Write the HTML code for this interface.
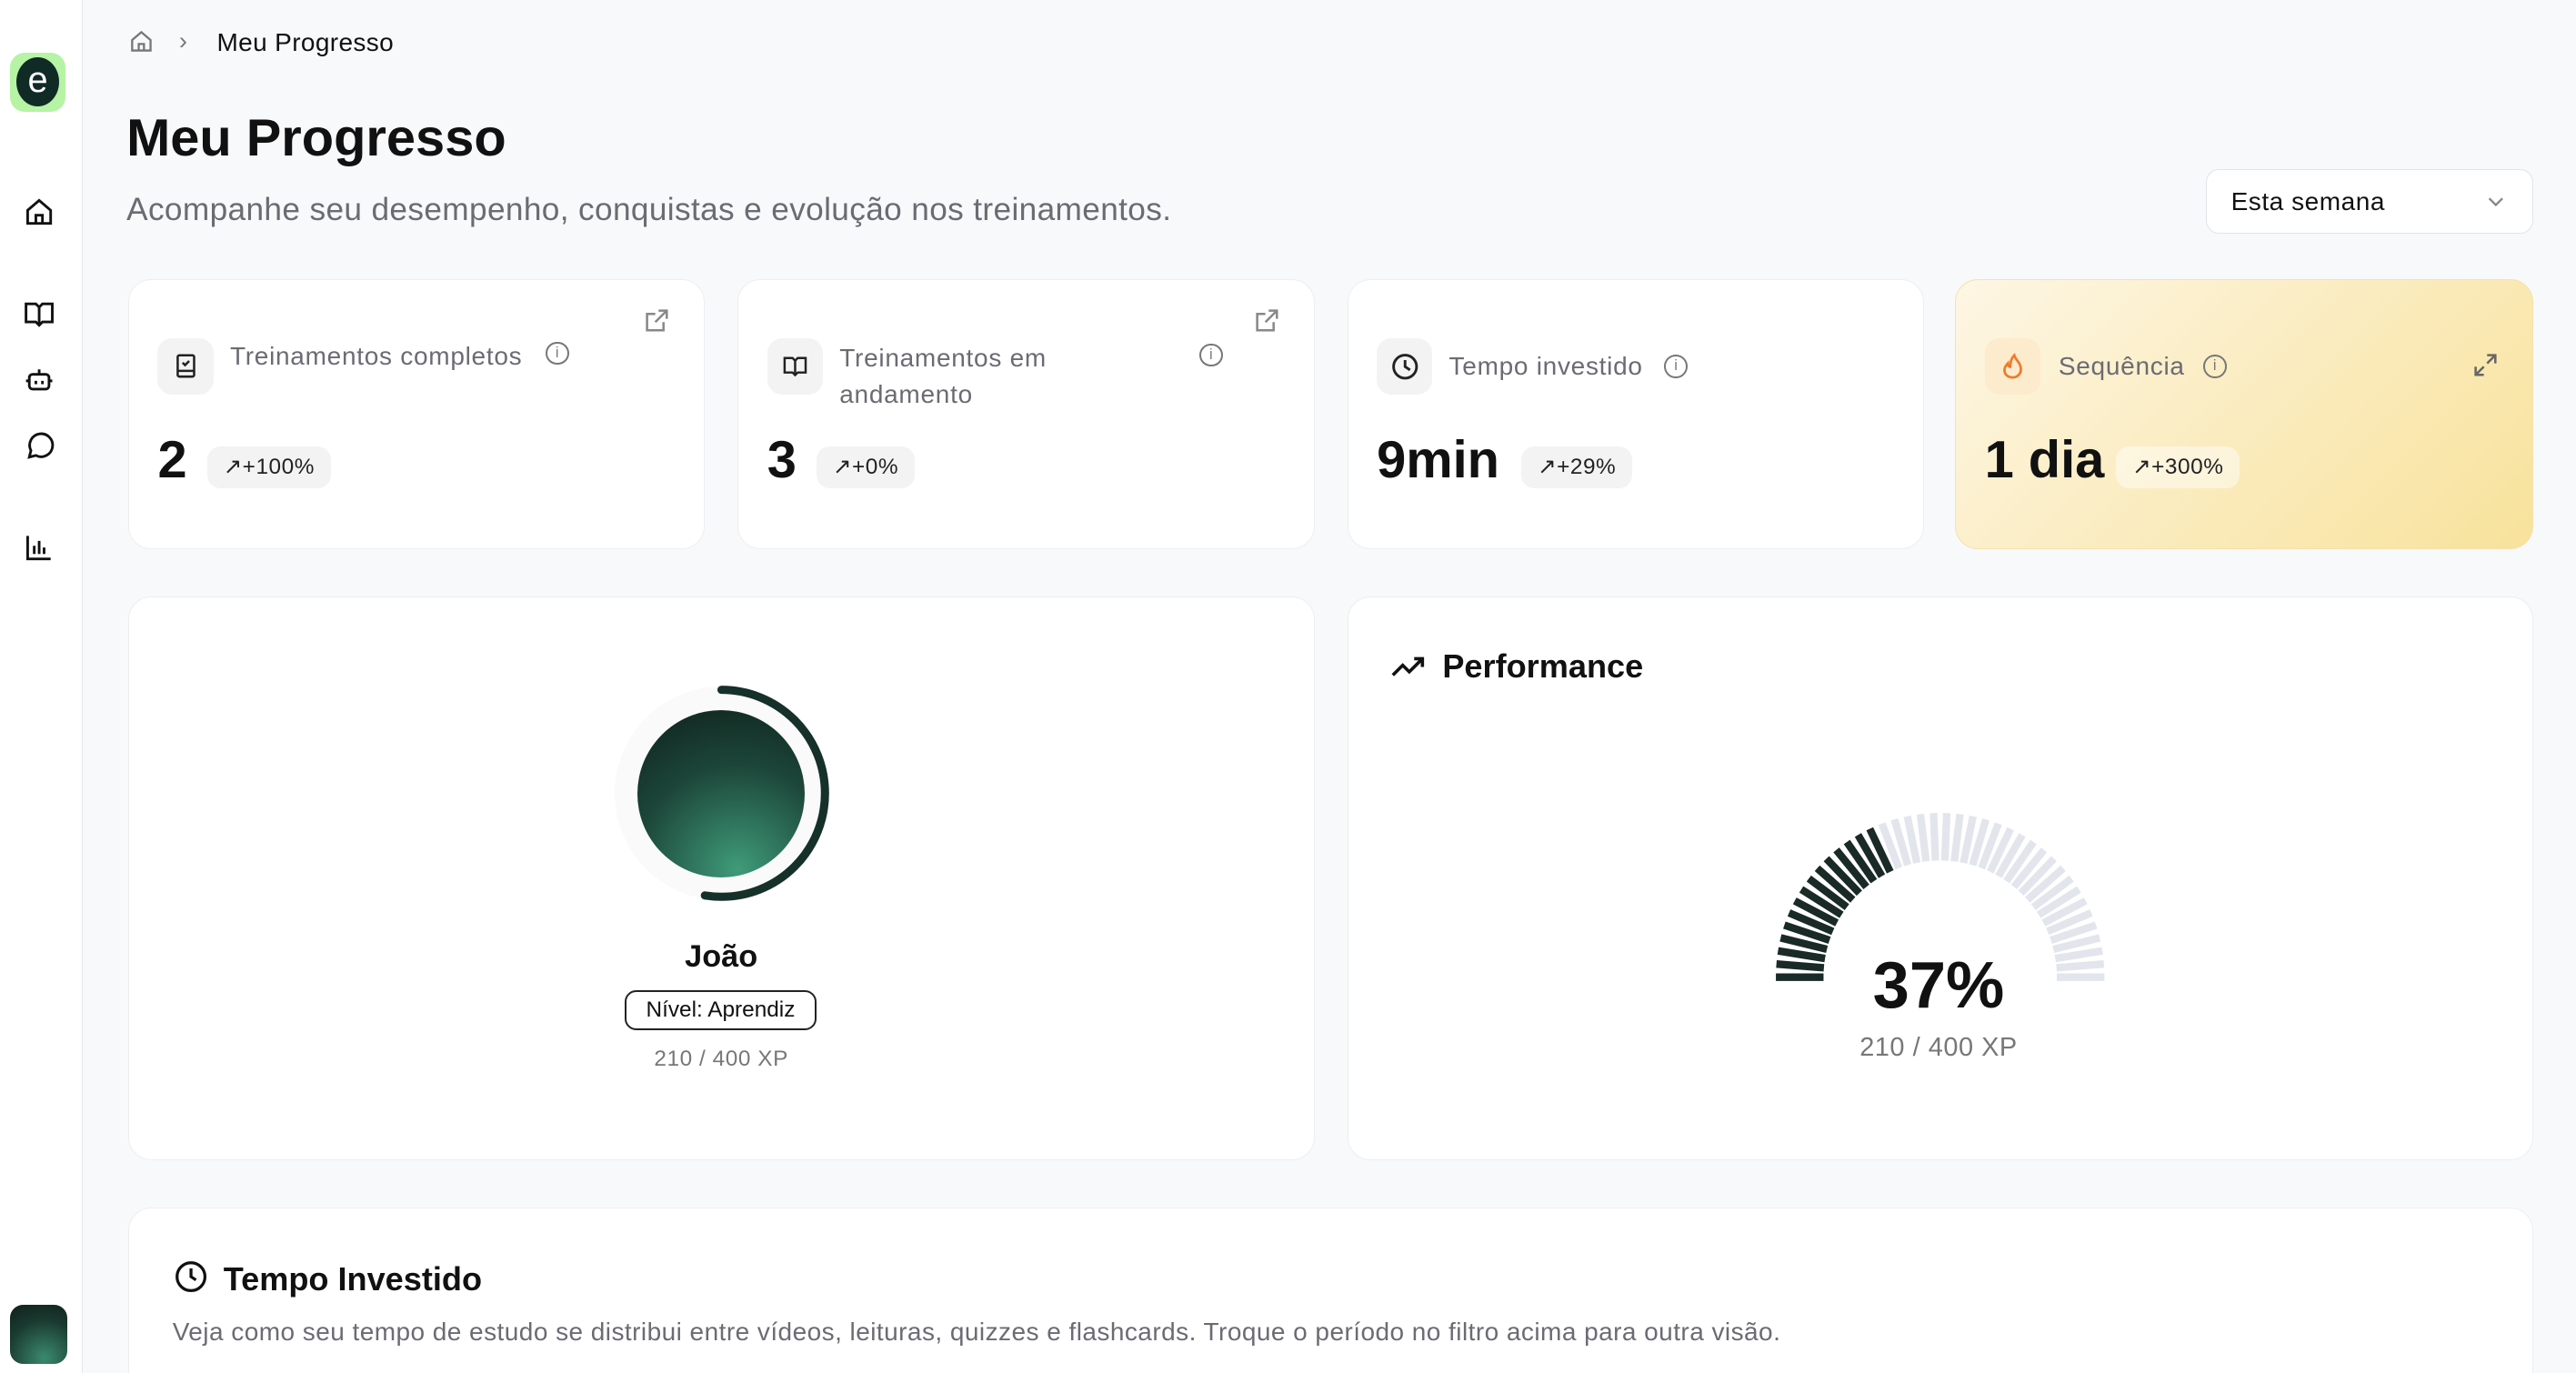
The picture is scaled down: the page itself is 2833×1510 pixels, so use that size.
<!DOCTYPE html>
<html><head><meta charset="utf-8">
<style>
html,body{margin:0;padding:0;background:#f8f9fa;}
body{width:2833px;height:1510px;overflow:hidden;font-family:"Liberation Sans",sans-serif;}
#z{zoom:1.80676;width:1568px;height:836px;position:relative;color:#111;overflow:hidden;}
.a{position:absolute;}
.card{position:absolute;background:#fff;border:1px solid #eceef1;border-radius:14px;}
.lbl{font-size:15.5px;color:#6b6b73;letter-spacing:0.4px;}
.val{font-size:32px;font-weight:bold;}
.bdg{position:absolute;background:#f3f3f4;border-radius:8px;font-size:13.5px;color:#222;height:25px;line-height:25px;padding:0 10px;letter-spacing:0.3px;}
.ib{position:absolute;width:34px;height:34px;background:#f3f3f4;border-radius:9px;}
svg{position:absolute;overflow:visible;}
</style></head><body><div id="z">
<div class="a" style="left:0;top:0;width:50px;height:836px;background:#fff;border-right:1px solid #e6e7ea"></div>
<div class="a" style="left:6px;top:32px;width:34px;height:36px;background:#b6f3a5;border-radius:9px"></div>
<div class="a" style="left:10px;top:35px;width:26px;height:30px;background:#102a26;border-radius:50%;color:#fff;font-size:22px;text-align:center;line-height:28px">e</div>
<svg width="20" height="20" style="left:14px;top:119px" viewBox="0 0 20 20" fill="none" stroke="#111" stroke-width="1.6"><path d="M3 9l7-6 7 6v8H3z M8 17v-5h4v5"/></svg>
<svg width="20" height="20" style="left:14px;top:181px" viewBox="0 0 20 20" fill="none" stroke="#111" stroke-width="1.6"><path d="M2 4h6l2 2 2-2h6v11h-6l-2 2-2-2H2z M10 6v11"/></svg>
<svg width="20" height="20" style="left:14px;top:221px" viewBox="0 0 20 20" fill="none" stroke="#111" stroke-width="1.6"><rect x="4" y="7" width="12" height="9" rx="2"/><path d="M10 7V4M8 11v2M12 11v2M2 11h2M16 11h2"/></svg>
<svg width="20" height="20" style="left:14px;top:261px" viewBox="0 0 20 20" fill="none" stroke="#111" stroke-width="1.6"><path d="M4 17l1-4a7 7 0 1 1 3 3z"/></svg>
<svg width="20" height="20" style="left:14px;top:323px" viewBox="0 0 20 20" fill="none" stroke="#111" stroke-width="1.6"><path d="M3 3v14h14M7 14V9M10 14V6M13 14v-4"/></svg>
<div class="a" style="left:6px;top:794px;width:35px;height:36px;border-radius:8px;background:radial-gradient(circle at 60% 90%,#3a8a6e,#1a3a30 60%,#101f1b)"></div>

<svg width="16" height="16" style="left:78px;top:17px" viewBox="0 0 20 20" fill="none" stroke="#777" stroke-width="1.6"><path d="M3 9l7-6 7 6v8H3z M8 17v-5h4v5"/></svg>
<div class="a" style="left:109px;top:16px;color:#777;font-size:15px">›</div>
<div class="a" style="left:132px;top:17px;font-size:15.5px;letter-spacing:0.2px">Meu Progresso</div>
<div class="a" style="left:77px;top:66px;font-size:32px;font-weight:bold">Meu Progresso</div>
<div class="a" style="left:77px;top:117px;font-size:19.5px;color:#6b6b73;letter-spacing:0.2px">Acompanhe seu desempenho, conquistas e evolução nos treinamentos.</div>
<div class="a" style="left:1343px;top:103px;width:199px;height:39px;background:#fff;border:1px solid #e2e4e8;border-radius:8px;box-sizing:border-box"></div>
<div class="a" style="left:1358px;top:114px;font-size:15.5px;letter-spacing:0.3px">Esta semana</div>
<svg width="12" height="12" style="left:1513px;top:117px" viewBox="0 0 12 12" fill="none" stroke="#888" stroke-width="1.3"><path d="M2 4l4 4 4-4"/></svg>

<div class="card" style="left:78px;top:170px;width:350px;height:163px"></div>
<div class="card" style="left:449px;top:170px;width:350px;height:163px"></div>
<div class="card" style="left:820px;top:170px;width:350px;height:163px"></div>
<div class="card" style="left:1190px;top:170px;width:351px;height:163px;background:linear-gradient(135deg,#fdf6e4,#f8e29b);border-color:#f3e2b0"></div>

<div class="ib" style="left:96px;top:206px"></div>
<svg width="16" height="16" style="left:105px;top:215px" viewBox="0 0 16 16" fill="none" stroke="#222" stroke-width="1.4"><rect x="3" y="1.5" width="10" height="13" rx="1"/><path d="M3 11h10M6 6l1.5 1.5L10 5"/></svg>
<div class="a lbl" style="left:140px;top:208px">Treinamentos completos</div>
<div class="a" style="left:332px;top:208px;width:12px;height:12px;border:1.3px solid #777;border-radius:50%;font-size:9px;color:#777;text-align:center;line-height:12px">i</div>
<svg width="16" height="16" style="left:392px;top:187px" viewBox="0 0 16 16" fill="none" stroke="#888" stroke-width="1.4"><path d="M12 9v5H2V4h5M9 2h5v5M14 2L7 9"/></svg>
<div class="a val" style="left:96px;top:262px">2</div>
<div class="bdg" style="left:126px;top:272px">↗+100%</div>

<div class="ib" style="left:467px;top:206px"></div>
<svg width="16" height="16" style="left:476px;top:215px" viewBox="0 0 20 20" fill="none" stroke="#222" stroke-width="1.7"><path d="M2 4h6l2 2 2-2h6v11h-6l-2 2-2-2H2z M10 6v11"/></svg>
<div class="a lbl" style="left:511px;top:207px;line-height:22px">Treinamentos em<br>andamento</div>
<div class="a" style="left:730px;top:209px;width:12px;height:12px;border:1.3px solid #777;border-radius:50%;font-size:9px;color:#777;text-align:center;line-height:12px">i</div>
<svg width="16" height="16" style="left:763px;top:187px" viewBox="0 0 16 16" fill="none" stroke="#888" stroke-width="1.4"><path d="M12 9v5H2V4h5M9 2h5v5M14 2L7 9"/></svg>
<div class="a val" style="left:467px;top:262px">3</div>
<div class="bdg" style="left:497px;top:272px">↗+0%</div>

<div class="ib" style="left:838px;top:206px"></div>
<svg width="18" height="18" style="left:846px;top:214px" viewBox="0 0 18 18" fill="none" stroke="#222" stroke-width="1.6"><circle cx="9" cy="9" r="7"/><path d="M9 5v4l3 2"/></svg>
<div class="a lbl" style="left:882px;top:214px">Tempo investido</div>
<div class="a" style="left:1013px;top:216px;width:12px;height:12px;border:1.3px solid #777;border-radius:50%;font-size:9px;color:#777;text-align:center;line-height:12px">i</div>
<div class="a val" style="left:838px;top:262px">9min</div>
<div class="bdg" style="left:926px;top:272px">↗+29%</div>

<div class="ib" style="left:1208px;top:206px;background:#fcebcd"></div>
<svg width="16" height="16" style="left:1217px;top:215px" viewBox="0 0 16 16" fill="none" stroke="#f07a2a" stroke-width="1.5"><path d="M8 15c-3 0-5-2-5-4.5 0-2 1.3-3.2 2-4 0 1.2.7 2 1.5 2C6.5 6 7 3.5 9 1.5c.5 2.5 4 4.5 4 8.5 0 3-2.3 5-5 5z"/></svg>
<div class="a lbl" style="left:1253px;top:214px">Sequência</div>
<div class="a" style="left:1341px;top:216px;width:12px;height:12px;border:1.3px solid #777;border-radius:50%;font-size:9px;color:#777;text-align:center;line-height:12px">i</div>
<svg width="16" height="16" style="left:1505px;top:214px" viewBox="0 0 16 16" fill="none" stroke="#666" stroke-width="1.4"><path d="M9 2h5v5M14 2L9 7M7 14H2V9M2 14l5-5"/></svg>
<div class="a val" style="left:1208px;top:262px">1 dia</div>
<div class="bdg" style="left:1288px;top:272px;background:rgba(255,255,255,.45)">↗+300%</div>

<div class="card" style="left:78px;top:363px;width:721px;height:342px"></div>
<div class="card" style="left:820px;top:363px;width:721px;height:342px"></div>
<div class="a" style="left:374px;top:418px;width:130px;height:130px;border-radius:50%;background:#fafafa"></div>
<svg width="140" height="140" style="left:369px;top:413px" viewBox="0 0 140 140"><circle cx="70" cy="70" r="63" fill="none" stroke="#16302a" stroke-width="5" stroke-dasharray="208 400" transform="rotate(-90 70 70)" stroke-linecap="round"/></svg>
<div class="a" style="left:388px;top:432px;width:102px;height:102px;border-radius:50%;background:radial-gradient(circle at 60% 95%,#3f9b7a,#1c4639 55%,#0f201b)"></div>
<div class="a" style="left:339px;top:572px;width:200px;text-align:center;font-size:19px;font-weight:bold">João</div>
<div class="a" style="left:380px;top:603px;width:115px;height:22px;border:1.5px solid #222;border-radius:7px;text-align:center;font-size:13.5px;line-height:22px">Nível: Aprendiz</div>
<div class="a" style="left:339px;top:637px;width:200px;text-align:center;font-size:13.5px;color:#777;letter-spacing:0.3px">210 / 400 XP</div>

<svg width="22" height="16" style="left:847px;top:398px" viewBox="0 0 22 16" fill="none" stroke="#111" stroke-width="2"><path d="M1 13l6-6 4 4 8-8M14 3h5v5"/></svg>
<div class="a" style="left:878px;top:394px;font-size:20px;font-weight:bold">Performance</div>
<svg id="g" width="220" height="120" style="left:1071px;top:490px"></svg>
<div class="a" style="left:1080px;top:577px;width:200px;text-align:center;font-size:40px;font-weight:bold">37%</div>
<div class="a" style="left:1080px;top:629px;width:200px;text-align:center;font-size:16px;color:#777;letter-spacing:0.3px">210 / 400 XP</div>

<div class="card" style="left:78px;top:735px;width:1463px;height:120px"></div>
<svg width="20" height="20" style="left:106px;top:767px" viewBox="0 0 20 20" fill="none" stroke="#111" stroke-width="1.8"><circle cx="10" cy="10" r="8.5"/><path d="M10 5v5l3 2"/></svg>
<div class="a" style="left:136px;top:767px;font-size:20px;font-weight:bold">Tempo Investido</div>
<div class="a" style="left:105px;top:802px;font-size:15.5px;color:#6b6b73;letter-spacing:0.25px">Veja como seu tempo de estudo se distribui entre vídeos, leituras, quizzes e flashcards. Troque o período no filtro acima para outra visão.</div>
</div>
<script>
var g=document.getElementById('g'),s='',cx=110,cy=105,N=40;
for(var i=0;i<N;i++){var t=Math.PI*(1-i/(N-1)),c=Math.cos(t),n=Math.sin(t);
s+='<line x1="'+(cx+71*c)+'" y1="'+(cy-71*n)+'" x2="'+(cx+100*c)+'" y2="'+(cy-100*n)+'" stroke="'+(i<15?'#1a2a26':'#e2e6ec')+'" stroke-width="4.6"/>';}
g.innerHTML=s;
</script>
</body></html>
